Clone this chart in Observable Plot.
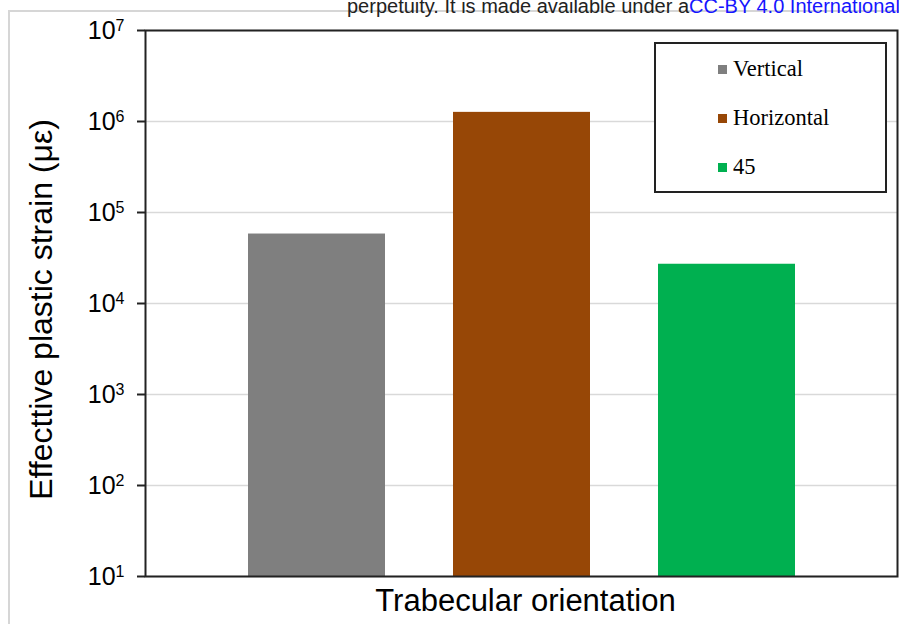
<!DOCTYPE html>
<html><head><meta charset="utf-8">
<script src="https://cdn.jsdelivr.net/npm/d3@7"></script>
<script src="https://cdn.jsdelivr.net/npm/@observablehq/plot@0.6"></script>
<style>
body{margin:0;background:#fff;}
#wrap{position:relative;width:899px;height:624px;overflow:hidden;background:#fff;font-family:Arial,"Liberation Sans",sans-serif;}
#outer{position:absolute;left:8px;top:10px;width:1000px;height:700px;border:2px solid #d6d6d6;box-sizing:border-box;}
#note{position:absolute;left:347px;top:-4px;font-size:20px;line-height:20px;white-space:nowrap;color:#222;}
#note span{color:#1515ff;}
#chart{position:absolute;left:0;top:0;}
#legend{position:absolute;left:654px;top:42px;width:233px;height:151px;border:2px solid #222;box-sizing:border-box;background:#fff;font-family:"Liberation Serif","Times New Roman",serif;font-size:22.5px;color:#000;}
.item{position:absolute;left:62px;height:24px;line-height:24px;display:flex;align-items:center;white-space:nowrap;}
.sw{width:9px;height:9px;margin-right:6px;}
</style>
</head><body>
<div id="wrap">
  <div id="outer"></div>
  <div id="note"></div>
  <div id="chart"></div>
  <div id="legend"></div>
</div>
<script>
const categories = ["Vertical", "Horizontal", "45"];
const strain = [58000, 1260000, 27000];
const colors = ["#7f7f7f", "#974706", "#00b050"];
const yTicks = [1e1, 1e2, 1e3, 1e4, 1e5, 1e6, 1e7];
const xTitle = "Trabecular orientation";
const yTitle = "Effecttive plastic strain (με)";
const noteText = "perpetuity. It is made available under a";
const noteLink = "CC-BY 4.0 International license";

const data = categories.map((c, i) => ({category: c, value: strain[i]}));

const plot = Plot.plot({
  width: 899, height: 624,
  marginLeft: 145, marginRight: 2, marginTop: 30, marginBottom: 48,
  style: {fontFamily: "Arial, 'Liberation Sans', sans-serif", background: "transparent", overflow: "visible", color: "#000"},
  x: {type: "band", domain: categories, paddingInner: 0.333, paddingOuter: 0.496, axis: null},
  y: {type: "log", domain: [10, 1e7], axis: null},
  color: {domain: categories, range: colors},
  marks: [
    Plot.ruleY(yTicks, {stroke: "#d9d9d9", strokeWidth: 1.5}),
    Plot.barY(data, {x: "category", y1: 10, y2: "value", fill: "category"}),
    Plot.frame({stroke: "#222", strokeWidth: 2}),
    Plot.axisY({ticks: yTicks, tickSize: 8, tickPadding: 13, tickFormat: d => "10^" + Math.round(Math.log10(d)), fontSize: 25, stroke: "#222", strokeWidth: 2, label: null}),
    Plot.text([yTitle], {frameAnchor: "left", textAnchor: "middle", rotate: -90, dx: -104, dy: 6, fontSize: 32, fill: "#000"}),
    Plot.text([xTitle], {frameAnchor: "bottom", textAnchor: "middle", dy: 34, dx: 4, fontSize: 31, fill: "#000"})
  ]
});

plot.querySelectorAll("text").forEach(t => {
  const m = /^10\^(\d+)$/.exec(t.textContent);
  if (m) {
    t.textContent = "10";
    const ts = document.createElementNS("http://www.w3.org/2000/svg", "tspan");
    ts.setAttribute("font-size", "16");
    ts.setAttribute("dy", "-0.5em");
    ts.textContent = m[1];
    t.appendChild(ts);
  }
});
document.getElementById("chart").appendChild(plot);

const note = document.getElementById("note");
note.textContent = noteText;
const link = document.createElement("span");
link.textContent = noteLink;
note.appendChild(link);

const legend = document.getElementById("legend");
const itemTops = [13, 62, 111];
categories.forEach((c, i) => {
  const it = document.createElement("div");
  it.className = "item";
  it.style.top = itemTops[i] + "px";
  const sw = document.createElement("div");
  sw.className = "sw";
  sw.style.background = colors[i];
  it.appendChild(sw);
  it.appendChild(document.createTextNode(c));
  legend.appendChild(it);
});
</script>
</body></html>
